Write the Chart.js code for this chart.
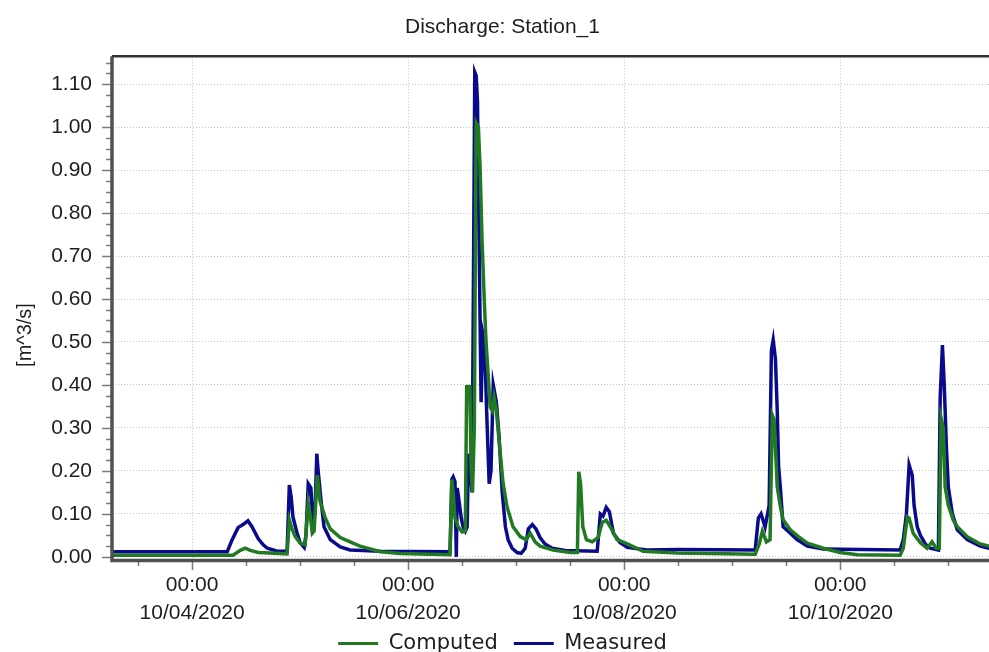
<!DOCTYPE html>
<html><head><meta charset="utf-8">
<script src="https://cdn.jsdelivr.net/npm/chart.js@4.4.1/dist/chart.umd.min.js"></script>
<style>
html,body{margin:0;padding:0;background:#fff;overflow:hidden;}
#wrap{position:relative;width:1020px;height:664px;}
</style></head><body>
<div id="wrap"><canvas id="c"></canvas></div>
<script>
// ---- data (x = hours after 10/04/2020 00:00) ----
const chartTitle = 'Discharge: Station_1';
const yAxisLabel = '[m^3/s]';
const seriesNames = ['Computed', 'Measured'];
const tickHours = [0, 48, 96, 144];
const tickTimes = ['00:00', '00:00', '00:00', '00:00'];
const tickDates = ['10/04/2020', '10/06/2020', '10/08/2020', '10/10/2020'];

const measuredHours = [-17.8,7.8,8.9,10.2,11.3,12.4,13.3,14.7,15.8,16.7,18.9,21.1,21.6,22.0,22.4,23.3,24.0,24.9,25.3,25.8,26.4,26.8,27.3,27.7,28.0,28.7,29.3,30.7,32.9,35.1,41.8,57.3,57.7,58.0,58.4,58.7,58.9,59.3,59.8,60.2,60.7,61.1,61.4,61.8,62.2,62.8,63.1,63.4,63.8,64.2,64.6,65.0,65.4,66.0,66.4,66.9,67.6,68.2,68.9,69.6,70.2,71.1,72.2,73.1,74.0,74.7,75.6,76.4,77.3,78.4,80.0,82.9,90.0,90.7,91.3,92.0,92.7,93.6,95.1,96.7,101.1,108.4,125.1,125.8,126.4,127.3,128.2,128.7,129.1,129.6,130.0,130.3,130.7,131.3,132.9,134.4,136.7,140.2,157.3,158.0,158.7,159.3,160.0,160.4,161.1,161.8,162.9,164.0,165.8,166.2,166.7,167.1,167.6,168.0,168.9,170.0,172.2,175.1,177.1,180.7];
const measuredValues = [0.012,0.012,0.04,0.068,0.075,0.084,0.07,0.042,0.028,0.02,0.013,0.013,0.167,0.14,0.093,0.056,0.033,0.022,0.05,0.17,0.16,0.086,0.1,0.24,0.2,0.125,0.07,0.04,0.023,0.016,0.013,0.012,0.18,0.186,0.175,0.0,0.16,0.13,0.09,0.07,0.06,0.07,0.24,0.2,0.15,1.128,1.12,1.06,0.7,0.36,0.52,0.5,0.35,0.17,0.2,0.40,0.36,0.28,0.15,0.07,0.04,0.02,0.01,0.008,0.02,0.065,0.075,0.065,0.045,0.03,0.02,0.015,0.013,0.1,0.095,0.115,0.105,0.055,0.033,0.022,0.016,0.017,0.016,0.09,0.1,0.07,0.12,0.48,0.505,0.46,0.34,0.21,0.16,0.07,0.055,0.04,0.025,0.018,0.016,0.04,0.1,0.214,0.19,0.12,0.07,0.05,0.03,0.02,0.016,0.37,0.493,0.4,0.25,0.163,0.1,0.063,0.04,0.025,0.02,0.018];

const computedHours = [-17.8,9.1,10.7,11.8,12.9,14.7,21.1,21.6,22.2,22.9,24.0,25.1,25.8,26.2,26.7,27.1,27.8,28.4,29.6,30.7,32.9,35.1,37.3,41.8,46.2,57.3,57.7,58.0,58.4,59.1,60.0,60.7,61.0,61.3,61.7,62.0,62.3,62.7,63.1,63.6,64.0,64.4,64.9,65.3,65.8,66.2,66.7,67.1,67.6,68.2,69.1,70.0,71.3,72.9,74.2,75.1,76.2,77.3,80.2,84.0,85.6,85.9,86.3,86.8,87.6,88.9,90.2,91.1,92.0,92.9,94.4,96.7,100.2,107.8,125.1,126.0,126.7,127.6,128.4,128.9,129.3,130.0,130.7,131.3,132.9,134.7,136.7,140.2,144.0,147.8,157.3,158.0,158.9,159.3,160.2,161.8,163.3,164.4,165.3,166.0,166.4,166.9,167.3,168.0,169.1,170.0,172.2,175.1,177.1,180.7];
const computedValues = [0.004,0.004,0.015,0.02,0.015,0.01,0.007,0.086,0.065,0.047,0.032,0.028,0.125,0.1,0.055,0.06,0.19,0.13,0.09,0.065,0.045,0.035,0.025,0.012,0.008,0.005,0.18,0.15,0.09,0.07,0.058,0.06,0.40,0.36,0.40,0.2,0.15,0.3,1.01,1.0,0.9,0.74,0.6,0.5,0.42,0.35,0.34,0.37,0.34,0.27,0.17,0.115,0.07,0.047,0.04,0.055,0.035,0.025,0.016,0.01,0.01,0.198,0.17,0.07,0.04,0.035,0.045,0.08,0.085,0.07,0.04,0.03,0.013,0.009,0.006,0.03,0.06,0.035,0.04,0.33,0.32,0.163,0.117,0.086,0.063,0.047,0.032,0.02,0.01,0.005,0.004,0.02,0.093,0.09,0.055,0.033,0.02,0.035,0.02,0.02,0.323,0.3,0.163,0.12,0.086,0.07,0.047,0.03,0.025,0.022];

const xMin = -17.8, xMax = 180.6, yMin = -0.005, yMax = 1.165;
// ---------------------------------------------

const toPts = (xs, ys) => xs.map((h, i) => ({x: h, y: ys[i]}));

Chart.defaults.font.family = '"Liberation Sans", Arial, sans-serif';
Chart.defaults.color = '#1e1e1e';

const frame = {
  id: 'frame',
  afterLayout(chart) {
    const s = chart.scales.x;
    s._computeLabelArea = () => ({top: s.top, left: 0, bottom: chart.height, right: chart.width});
  },
  afterDatasetsDraw(chart) {
    const {ctx, chartArea: a, scales: {x, y}} = chart;
    ctx.save();
    ctx.strokeStyle = '#7a7a7a'; ctx.lineWidth = 1.5;
    for (let i = 0; i * 0.025 <= yMax; i++) {
      const py = Math.round(y.getPixelForValue(i * 0.025)) + 0.5;
      const major = i % 4 === 0;
      ctx.beginPath(); ctx.moveTo(a.left - (major ? 10 : 6), py); ctx.lineTo(a.left, py); ctx.stroke();
    }
    for (let h = -12; h <= xMax; h += 12) {
      const px = Math.round(x.getPixelForValue(h)) + 0.5;
      const major = h % 48 === 0;
      ctx.beginPath(); ctx.moveTo(px, a.bottom); ctx.lineTo(px, a.bottom + (major ? 11 : 7)); ctx.stroke();
    }
    ctx.strokeStyle = '#505050'; ctx.lineWidth = 3.5;
    ctx.beginPath(); ctx.moveTo(a.left, a.top); ctx.lineTo(a.left, a.bottom + 1.5); ctx.lineTo(a.right, a.bottom + 1.5); ctx.stroke();
    ctx.strokeStyle = '#333'; ctx.lineWidth = 2.5;
    ctx.beginPath(); ctx.moveTo(a.left, a.top); ctx.lineTo(a.right, a.top); ctx.lineTo(a.right, a.bottom); ctx.stroke();
    ctx.translate(25, 335); ctx.rotate(-Math.PI / 2);
    ctx.fillStyle = '#1e1e1e'; ctx.textAlign = 'center'; ctx.textBaseline = 'middle';
    ctx.font = '20px "Liberation Sans", Arial, sans-serif';
    ctx.fillText(yAxisLabel, 0, 0);
    ctx.restore();
  }
};

new Chart(document.getElementById('c'), {
  type: 'line',
  data: {
    datasets: [
      {label: seriesNames[0], data: toPts(computedHours, computedValues), borderColor: '#217a21', backgroundColor: '#217a21', borderWidth: 3.5, pointRadius: 0, tension: 0},
      {label: seriesNames[1], data: toPts(measuredHours, measuredValues), borderColor: '#0a0a8c', backgroundColor: '#0a0a8c', borderWidth: 3.5, pointRadius: 0, tension: 0}
    ]
  },
  options: {
    animation: false, responsive: true, maintainAspectRatio: false, devicePixelRatio: 1,
    layout: {padding: {left: 0, right: 15, top: 0, bottom: 0}},
    plugins: {
      title: {display: true, text: chartTitle, font: {size: 21, weight: 'normal'}, color: '#1e1e1e', padding: {top: 15, bottom: 16}},
      legend: {
        position: 'bottom',
        labels: {
          font: {family: '"DejaVu Sans", Verdana, sans-serif', size: 21}, color: '#1e1e1e',
          boxWidth: 40, boxHeight: 3, padding: 16,
          generateLabels: (chart) => Chart.defaults.plugins.legend.labels.generateLabels(chart).map(l => ({...l, lineWidth: 0, fillStyle: l.strokeStyle}))
        }
      },
      tooltip: {enabled: false}
    },
    scales: {
      x: {
        type: 'linear', min: xMin, max: xMax,
        afterBuildTicks: (s) => { s.ticks = tickHours.map(v => ({value: v})); },
        afterFit: (s) => { s.height = 58; },
        ticks: {
          autoSkip: false, maxRotation: 0, padding: 12,
          font: {size: 21, lineHeight: 1.33}, color: '#1e1e1e',
          callback: (v) => { const i = tickHours.indexOf(v); return i >= 0 ? [tickTimes[i], tickDates[i]] : ''; }
        },
        grid: {color: '#c4c4c4', lineWidth: 1, drawTicks: false},
        border: {display: false, dash: [1, 2]}
      },
      y: {
        min: yMin, max: yMax,
        afterFit: (s) => { s.width = 112; },
        ticks: {stepSize: 0.1, includeBounds: false, padding: 20, font: {size: 21}, color: '#1e1e1e',
          callback: (v) => v.toFixed(2)},
        grid: {color: '#c4c4c4', lineWidth: 1, drawTicks: false},
        border: {display: false, dash: [1, 2]}
      }
    }
  },
  plugins: [frame]
});
</script>
</body></html>
